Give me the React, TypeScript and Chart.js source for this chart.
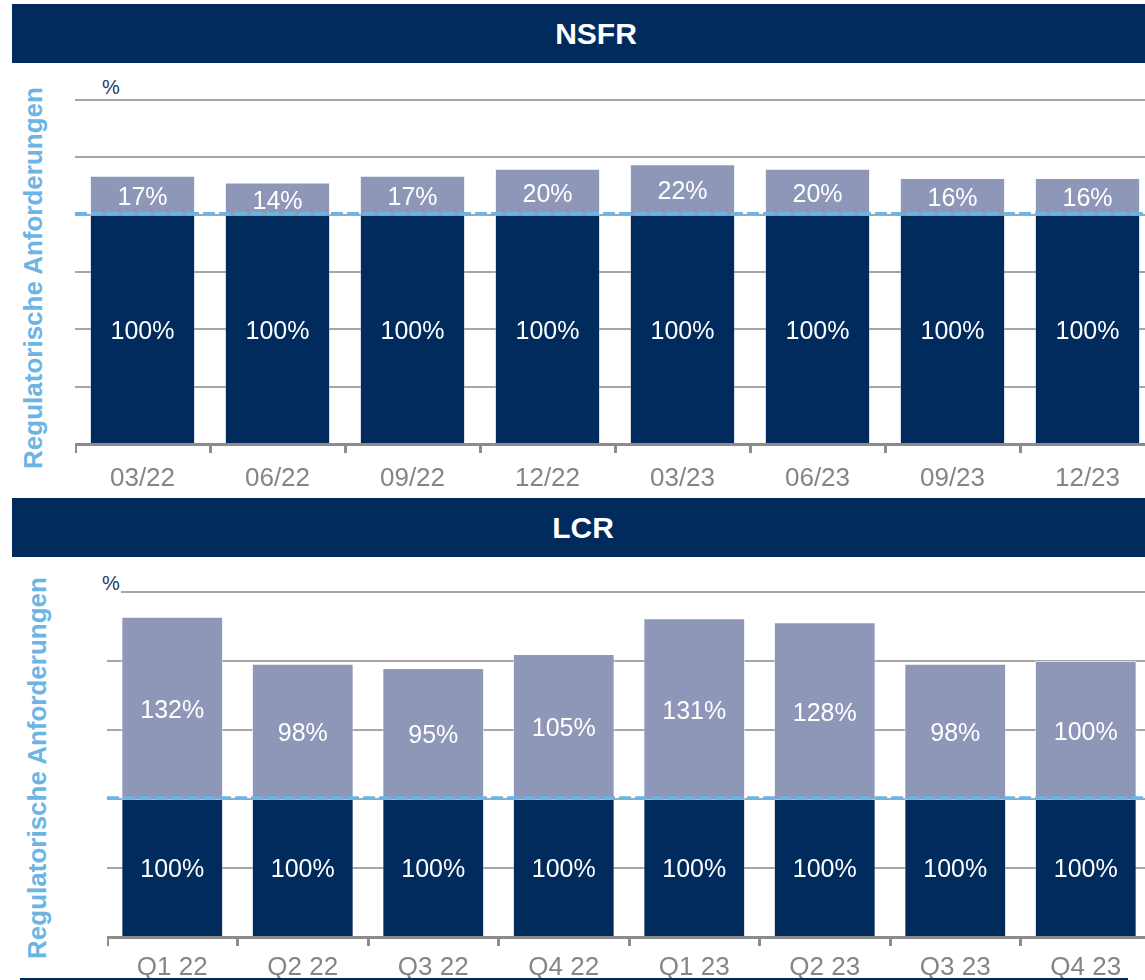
import React, { useEffect, useRef } from "react";
import { Chart, registerables } from "chart.js";

Chart.register(...registerables);

// ---------- data ----------
const nsfrCategories = ["03/22", "06/22", "09/22", "12/22", "03/23", "06/23", "09/23", "12/23"];
const nsfrRequirement = [100, 100, 100, 100, 100, 100, 100, 100];
const nsfrSurplus = [17, 14, 17, 20, 22, 20, 16, 16];

const lcrCategories = ["Q1 22", "Q2 22", "Q3 22", "Q4 22", "Q1 23", "Q2 23", "Q3 23", "Q4 23"];
const lcrRequirement = [100, 100, 100, 100, 100, 100, 100, 100];
const lcrSurplus = [132, 98, 95, 105, 131, 128, 98, 100];

const nsfrAxisMax = 150;
const nsfrAxisStep = 25;
const lcrAxisMax = 250;
const lcrAxisStep = 50;
const requirementLevel = 100;

const nsfrTitle = "NSFR";
const lcrTitle = "LCR";
const axisTitle = "Regulatorische Anforderungen";
const unitLabel = "%";

// ---------- styles ----------
const NAVY = "#002b5c";
const LILAC = "#8f97b9";
const SKY = "#6cb4e4";
const GRID = "#a6a6a6";
const AXIS = "#8c8c8c";
const TICK_TEXT = "#858585";
const FONT = "'Liberation Sans', Arial, Helvetica, sans-serif";

type ChartProps = {
  categories: string[];
  base: number[];
  surplus: number[];
  max: number;
  step: number;
  left: number;
  top: number;
  width: number;
  plotHeight: number;
  tickPadding: number;
};

const PAD_TOP = 10;
const X_AXIS_H = 60;

function RatioChart(p: ChartProps) {
  const ref = useRef<HTMLCanvasElement | null>(null);
  const height = PAD_TOP + p.plotHeight + X_AXIS_H;

  useEffect(() => {
    const canvas = ref.current;
    if (!canvas) return;

    const dashPlugin = {
      id: "requirementLine",
      afterDatasetsDraw(chart: any) {
        const { ctx, chartArea, scales } = chart;
        const y = scales.y.getPixelForValue(requirementLevel);
        ctx.save();
        ctx.strokeStyle = SKY;
        ctx.lineWidth = 3.5;
        ctx.setLineDash([12, 4]);
        ctx.beginPath();
        ctx.moveTo(chartArea.left, y - 1);
        ctx.lineTo(chartArea.right, y - 1);
        ctx.stroke();
        ctx.restore();
      },
    };

    const labelPlugin = {
      id: "barLabels",
      afterDatasetsDraw(chart: any) {
        const ctx = chart.ctx;
        ctx.save();
        ctx.font = `25px ${FONT}`;
        ctx.fillStyle = "#ffffff";
        ctx.textAlign = "center";
        ctx.textBaseline = "middle";
        chart.data.datasets.forEach((ds: any, i: number) => {
          const meta = chart.getDatasetMeta(i);
          meta.data.forEach((el: any, j: number) => {
            const { x, y, base } = el.getProps(["x", "y", "base"], true);
            ctx.fillText(`${ds.data[j]}%`, x, (y + base) / 2 + 3);
          });
        });
        ctx.restore();
      },
    };

    const chart = new Chart(canvas, {
      type: "bar",
      data: {
        labels: p.categories,
        datasets: [
          {
            label: "Regulatorische Anforderung",
            data: p.base,
            backgroundColor: NAVY,
            borderColor: "rgba(255,255,255,0.3)",
            borderWidth: 1,
            barPercentage: 0.78,
            categoryPercentage: 1,
          },
          {
            label: "Überdeckung",
            data: p.surplus,
            backgroundColor: LILAC,
            borderColor: "rgba(255,255,255,0.6)",
            borderWidth: 1,
            barPercentage: 0.78,
            categoryPercentage: 1,
          },
        ],
      },
      options: {
        responsive: false,
        animation: false,
        devicePixelRatio: 1,
        layout: { padding: { top: PAD_TOP, left: 0, right: 0, bottom: 0 } },
        plugins: {
          legend: { display: false },
          tooltip: { enabled: false },
        },
        scales: {
          x: {
            stacked: true,
            offset: true,
            grid: {
              display: true,
              drawOnChartArea: false,
              drawTicks: true,
              tickLength: 9,
              color: AXIS,
              lineWidth: 3,
              offset: true,
            },
            border: { display: true, color: AXIS, width: 3 },
            ticks: {
              color: TICK_TEXT,
              font: { family: FONT, size: 26 },
              padding: p.tickPadding,
              maxRotation: 0,
              autoSkip: false,
            },
            afterFit: (s: any) => {
              s.height = X_AXIS_H;
            },
          },
          y: {
            stacked: true,
            min: 0,
            max: p.max,
            ticks: { display: false, stepSize: p.step },
            grid: { color: GRID, lineWidth: 2, drawTicks: false },
            border: { display: false },
            afterFit: (s: any) => {
              s.width = 0;
            },
          },
        },
      } as any,
      plugins: [dashPlugin, labelPlugin],
    });
    return () => chart.destroy();
  }, []);

  return (
    <canvas
      ref={ref}
      width={p.width}
      height={height}
      style={{
        position: "absolute",
        left: p.left,
        top: p.top - PAD_TOP,
        width: p.width,
        height,
      }}
    />
  );
}

function Header({ top, text, center }: { top: number; text: string; center: number }) {
  return (
    <div
      style={{
        position: "absolute",
        left: 12,
        top,
        width: 1150,
        height: 59,
        background: NAVY,
      }}
    >
      <div
        style={{
          position: "absolute",
          left: center - 12,
          top: 0,
          transform: "translateX(-50%)",
          whiteSpace: "nowrap",
          color: "#ffffff",
          fontFamily: FONT,
          fontWeight: "bold",
          fontSize: 30,
          lineHeight: "59px",
        }}
      >
        {text}
      </div>
    </div>
  );
}

function AxisTitle({ cx, cy }: { cx: number; cy: number }) {
  return (
    <div
      style={{
        position: "absolute",
        left: cx,
        top: cy,
        transform: "translate(-50%, -50%) rotate(-90deg)",
        whiteSpace: "nowrap",
        fontFamily: FONT,
        fontWeight: "bold",
        fontSize: 26,
        color: SKY,
        lineHeight: "30px",
      }}
    >
      {axisTitle}
    </div>
  );
}

function Unit({ top }: { top: number }) {
  return (
    <div
      style={{
        position: "absolute",
        left: 102,
        top,
        fontFamily: FONT,
        fontSize: 20,
        color: "#1f3864",
        background: "#ffffff",
        lineHeight: "22px",
        paddingRight: 1,
      }}
    >
      {unitLabel}
    </div>
  );
}

export default function App() {
  return (
    <div
      style={{
        position: "fixed",
        left: 0,
        top: 0,
        width: 1145,
        height: 980,
        overflow: "hidden",
        background: "#ffffff",
      }}
    >
      <Header top={4} text={nsfrTitle} center={596} />
      <AxisTitle cx={33} cy={278} />
      <RatioChart
        categories={nsfrCategories}
        base={nsfrRequirement}
        surplus={nsfrSurplus}
        max={nsfrAxisMax}
        step={nsfrAxisStep}
        left={75}
        top={100}
        width={1080}
        plotHeight={344}
        tickPadding={10}
      />
      <Unit top={76} />

      <Header top={498} text={lcrTitle} center={583} />
      <AxisTitle cx={37} cy={768} />
      <RatioChart
        categories={lcrCategories}
        base={lcrRequirement}
        surplus={lcrSurplus}
        max={lcrAxisMax}
        step={lcrAxisStep}
        left={107}
        top={592}
        width={1044}
        plotHeight={345}
        tickPadding={6}
      />
      <Unit top={572} />

      <div
        style={{
          position: "absolute",
          left: 20,
          top: 978,
          width: 1108,
          height: 2,
          background: NAVY,
        }}
      />
    </div>
  );
}
